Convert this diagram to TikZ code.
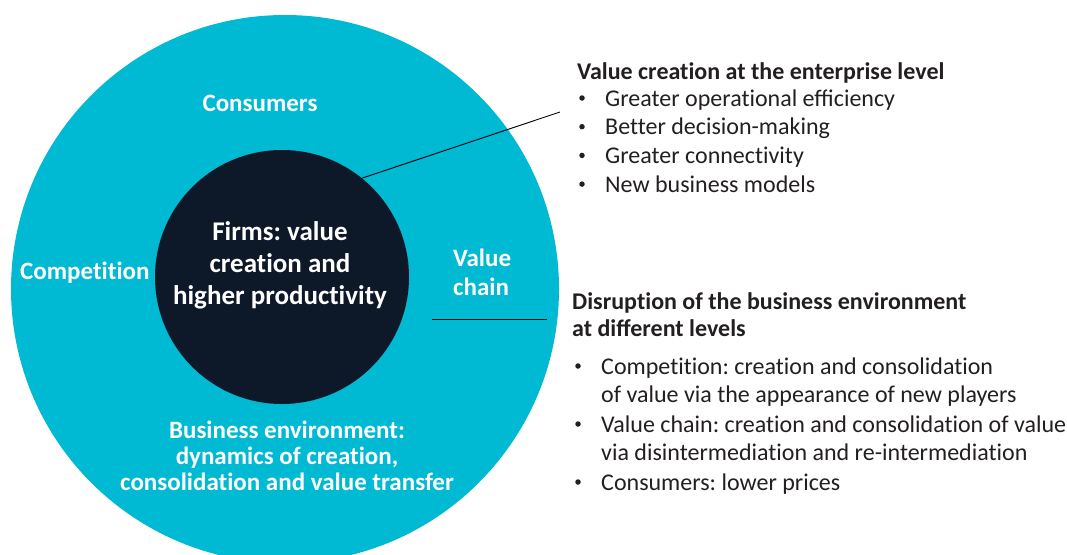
\documentclass[tikz,border=0pt]{standalone}
\usepackage{fontspec}
\setmainfont{Carlito}[Ligatures=NoCommon]
\definecolor{ringcol}{HTML}{00B9D3}
\definecolor{navycol}{HTML}{0D1828}
\definecolor{txtcol}{HTML}{231F20}
\tikzset{
  ringlabel/.style={text=white, font=\fontsize{25}{29}\selectfont\bfseries, inner sep=0, anchor=base},
  firmlabel/.style={text=white, font=\fontsize{27}{32}\selectfont\bfseries, inner sep=0, anchor=base},
  headtxt/.style={text=txtcol, font=\fontsize{24}{28}\selectfont\bfseries, inner sep=0, anchor=base west},
  itemtxt/.style={text=txtcol, font=\fontsize{24}{28}\selectfont, inner sep=0, anchor=base west},
  bulletmark/.style={circle, fill=txtcol, minimum size=5.5pt, inner sep=0},
  leader/.style={draw=black, line width=0.9pt}
}
\begin{document}
\frenchspacing
\begin{tikzpicture}[x=1pt,y=-1pt]
\useasboundingbox (0,0) rectangle (1067,554);
\clip (0,0) rectangle (1067,554);
\node[circle, fill=ringcol, minimum size=548pt, inner sep=0] (env) at (285,289) {};
\node[circle, fill=navycol, minimum size=254pt, inner sep=0] (firm) at (282,277) {};
% ring labels
\node[ringlabel] (cons) at (260,111) {Consumers};
\node[ringlabel, anchor=base west] (comp) at (20,279) {Competition};
\node[ringlabel, anchor=base west] (vc1) at (453,266) {Value};
\node[ringlabel, anchor=base west] (vc2) at (453,295) {chain};
\node[ringlabel] (be1) at (287,438) {Business environment:};
\node[ringlabel] (be2) at (287,464) {dynamics of creation,};
\node[ringlabel] (be3) at (287,490) {consolidation and value transfer};
% firm labels
\node[firmlabel] (f1) at (280,240) {Firms: value};
\node[firmlabel] (f2) at (280,272) {creation and};
\node[firmlabel] (f3) at (280,304) {higher productivity};
% leader lines
\coordinate (l1end) at (560,112);
\draw[leader] (firm.51) -- (l1end);
\coordinate (l2a) at (432,319);
\coordinate (l2b) at (547,319);
\draw[leader] (l2a) -- (l2b);
% block 1
\node[headtxt] (h1) at (577,79) {Value creation at the enterprise level};
\node[bulletmark] (b11) at (582,98) {};
\node[itemtxt] (t11) at (605,106) {Greater operational eﬃciency};
\node[bulletmark] (b12) at (582,126.7) {};
\node[itemtxt] (t12) at (605,134.7) {Better decision-making};
\node[bulletmark] (b13) at (582,155.4) {};
\node[itemtxt] (t13) at (605,163.4) {Greater connectivity};
\node[bulletmark] (b14) at (582,184.1) {};
\node[itemtxt] (t14) at (605,192.1) {New business models};
% block 2
\node[headtxt] (h2a) at (572,309) {Disruption of the business environment};
\node[headtxt] (h2b) at (572,336) {at diﬀerent levels};
\node[bulletmark] (b21) at (578,366) {};
\node[itemtxt] (t21) at (601,374) {Competition: creation and consolidation};
\node[itemtxt] (t21b) at (601,402) {of value via the appearance of new players};
\node[bulletmark] (b22) at (578,424) {};
\node[itemtxt] (t22) at (601,432) {Value chain: creation and consolidation of value};
\node[itemtxt] (t22b) at (601,460) {via disintermediation and re-intermediation};
\node[bulletmark] (b23) at (578,482) {};
\node[itemtxt] (t23) at (601,490) {Consumers: lower prices};
\end{tikzpicture}
\end{document}
